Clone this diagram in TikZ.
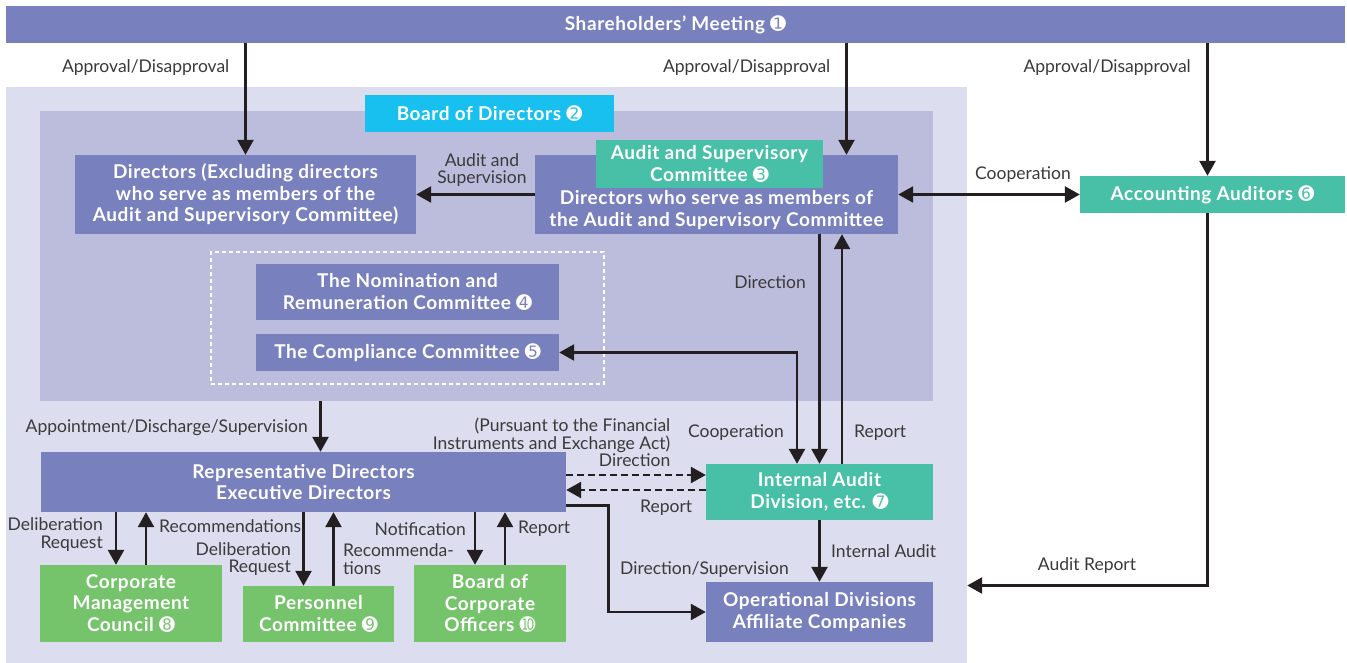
\documentclass[tikz,border=0pt]{standalone}
\usepackage{fontspec}
\setmainfont{Lato}
\newfontfamily\boxfont{Lato}[LetterSpace=3]
\newfontfamily\dingfont{DejaVu Sans}
\usepackage{xcolor}
\usepackage{tikz}
\usetikzlibrary{arrows.meta}
\definecolor{box_purple}{HTML}{7880BD}
\definecolor{box_cyan}{HTML}{17C0EF}
\definecolor{box_teal}{HTML}{48BFA7}
\definecolor{box_green}{HTML}{75C36A}
\definecolor{outer_fill}{HTML}{DCDDEE}
\definecolor{inner_fill}{HTML}{BCBDDD}
\definecolor{note_gray}{HTML}{3A3A3A}
\definecolor{line_black}{HTML}{231F20}
\newcommand{\cnum}[1]{{\dingfont #1}}
\tikzset{
    box/.style = {align=center, inner sep=0pt, text centered, text=white, font=\boxfont\bfseries\fontsize{19}{21.5}\selectfont},
    purple_box/.style = {box, rectangle, fill=box_purple},
    cyan_box/.style = {box, rectangle, fill=box_cyan},
    teal_box/.style = {box, rectangle, fill=box_teal},
    green_box/.style = {box, rectangle, fill=box_green},
    region/.style = {rectangle, inner sep=0pt},
    tag_text/.style = {align=center, inner sep=0pt, text=note_gray, font=\fontsize{17.5}{17.4}\selectfont},
    flow/.style = {draw=line_black, line width=2.6pt, -{Triangle[length=15pt, width=16pt]}},
    flow_both/.style = {draw=line_black, line width=2.6pt, {Triangle[length=15pt, width=16pt]}-{Triangle[length=15pt, width=16pt]}},
    dash_flow/.style = {flow, dash pattern=on 7pt off 4pt}
}
\begin{document}
\begin{tikzpicture}[x=1pt, y=-1pt]
\useasboundingbox (0,0) rectangle (1347,663);
% background areas
\node[region, fill=outer_fill, minimum width=961pt, minimum height=576pt] (company) at (486.5,375) {};
\node[region, fill=inner_fill, minimum width=893pt, minimum height=290pt] (board) at (486.5,256) {};
\node[region, draw=white, line width=1.2pt, dash pattern=on 4pt off 3pt, minimum width=393pt, minimum height=132pt] (committees) at (407.5,318) {};

% boxes
\node[purple_box, minimum width=1339pt, minimum height=37pt] (meeting) at (675.5,24.5) {Shareholders’ Meeting \cnum{➊}};
\node[cyan_box, minimum width=249pt, minimum height=37pt] (bod) at (489.5,113.5) {Board of Directors \cnum{➋}};
\node[purple_box, minimum width=341pt, minimum height=79pt] (dirs) at (245.5,194.5) {Directors (Excluding directors\\who serve as members of the\\Audit and Supervisory Committee)};
\node[purple_box, minimum width=363pt, minimum height=79pt] (asc) at (716.5,194.5) {};
\node[box] (asc_text) at (716.5,210) {Directors who serve as members of\\the Audit and Supervisory Committee};
\node[teal_box, minimum width=227pt, minimum height=48pt] (asc_title) at (709.5,164) {Audit and Supervisory\\Committee \cnum{➌}};
\node[teal_box, minimum width=265pt, minimum height=37pt] (acc) at (1212.5,194.5) {Accounting Auditors \cnum{➏}};
\node[purple_box, minimum width=303pt, minimum height=56pt] (nom) at (407.5,292) {The Nomination and\\Remuneration Committee \cnum{➍}};
\node[purple_box, minimum width=303pt, minimum height=37pt] (comp) at (407.5,352.5) {The Compliance Committee \cnum{➎}};
\node[purple_box, minimum width=525pt, minimum height=60pt] (rep) at (303.5,482) {Representative Directors\\Executive Directors};
\node[teal_box, minimum width=227pt, minimum height=56pt] (iad) at (819.5,492) {Internal Audit\\Division, etc. \cnum{➐}};
\node[purple_box, minimum width=227pt, minimum height=60pt] (ops) at (819.5,612) {Operational Divisions\\Affiliate Companies};
\node[green_box, minimum width=182pt, minimum height=77pt] (cmc) at (131,603.5) {Corporate\\Management\\Council \cnum{➑}};
\node[green_box, minimum width=151pt, minimum height=56pt] (pers) at (318.5,614) {Personnel\\Committee \cnum{➒}};
\node[green_box, minimum width=152pt, minimum height=77pt] (bco) at (490,603.5) {Board of\\Corporate\\Officers \cnum{➓}};

% connectors
\draw[flow] (meeting.south -| dirs.north) -- (dirs.north);
\coordinate (asc_in) at ([xshift=130pt]asc.north);
\draw[flow] (meeting.south -| asc_in) -- (asc_in);
\coordinate (acc_in) at ([xshift=-5pt]acc.north);
\draw[flow] (meeting.south -| acc_in) -- (acc_in);
\draw[flow] (asc.west) -- (dirs.east);
\draw[flow_both] (asc.east) -- (acc.west);
\coordinate (rep_in) at ([xshift=17pt]rep.north);
\draw[flow] (board.south -| rep_in) -- (rep_in);
\draw[flow] (asc.south -| iad.north) -- (iad.north);
\coordinate (iad_up) at ([xshift=22.5pt]iad.north);
\draw[flow] (iad_up) -- (asc.south -| iad_up);
\coordinate (iad_co) at ([xshift=-22.5pt]iad.north);
\draw[flow_both] (comp.east) -| (iad_co);
\coordinate (iad_dir) at ([yshift=17pt]iad.west);
\draw[dash_flow] (rep.east |- iad_dir) -- (iad_dir);
\coordinate (iad_rep) at ([yshift=2pt]iad.west);
\draw[dash_flow] (iad_rep) -- (rep.east |- iad_rep);
\coordinate (rep_out) at ([yshift=-23.5pt]rep.east);
\draw[flow] (rep_out) -- ++(42,0) |- (ops.west);
\draw[flow] (iad.south) -- (ops.north);
\coordinate (acc_out) at ([xshift=-5pt]acc.south);
\draw[flow] (acc_out) |- ([yshift=-210.5pt]company.east);
\foreach \b in {cmc, pers, bco} {
    \coordinate (\b_req) at ([xshift=-15pt]\b.north);
    \coordinate (\b_rec) at ([xshift=15pt]\b.north);
    \draw[flow] (rep.south -| \b_req) -- (\b_req);
    \draw[flow] (\b_rec) -- (rep.south -| \b_rec);
}

% connector texts
\node[tag_text, anchor=east] (approve_a) at (229.5,68) {Approval/Disapproval};
\node[tag_text, anchor=east] (approve_b) at (830.5,68) {Approval/Disapproval};
\node[tag_text, anchor=east] (approve_c) at (1191,68) {Approval/Disapproval};
\node[tag_text] (audit_sup) at (482,170) {Audit and\\Supervision};
\node[tag_text] (coop_top) at (1023,175) {Cooperation};
\node[tag_text, anchor=east] (dir_top) at (806,282) {Direction};
\node[tag_text, anchor=east] (coop_bot) at (784,433) {Cooperation};
\node[tag_text, anchor=west] (report_up) at (854,433) {Report};
\node[tag_text, anchor=east, align=right] (act_note) at (670.5,442.5) {(Pursuant to the Financial\\Instruments and Exchange Act)\\Direction};
\node[tag_text, anchor=west] (report_dash) at (640,508) {Report};
\node[tag_text, anchor=east] (appoint) at (308,428) {Appointment/Discharge/Supervision};
\node[tag_text, anchor=east, align=right] (cmc_req_text) at (103,534.5) {Deliberation\\Request};
\node[tag_text, anchor=west] (cmc_rec_text) at (159,526) {Recommendations};
\node[tag_text, anchor=east, align=right] (pers_req_text) at (291,559) {Deliberation\\Request};
\node[tag_text, anchor=west, align=left] (pers_rec_text) at (343,559) {Recommenda-\\tions};
\node[tag_text, anchor=east] (bco_req_text) at (466,529) {Notification};
\node[tag_text, anchor=west] (bco_rec_text) at (518,529) {Report};
\node[tag_text, anchor=west] (dir_sup) at (620,569.5) {Direction/Supervision};
\node[tag_text, anchor=west] (int_audit) at (831,551.5) {Internal Audit};
\node[tag_text] (audit_report) at (1087,566) {Audit Report};
\end{tikzpicture}
\end{document}
